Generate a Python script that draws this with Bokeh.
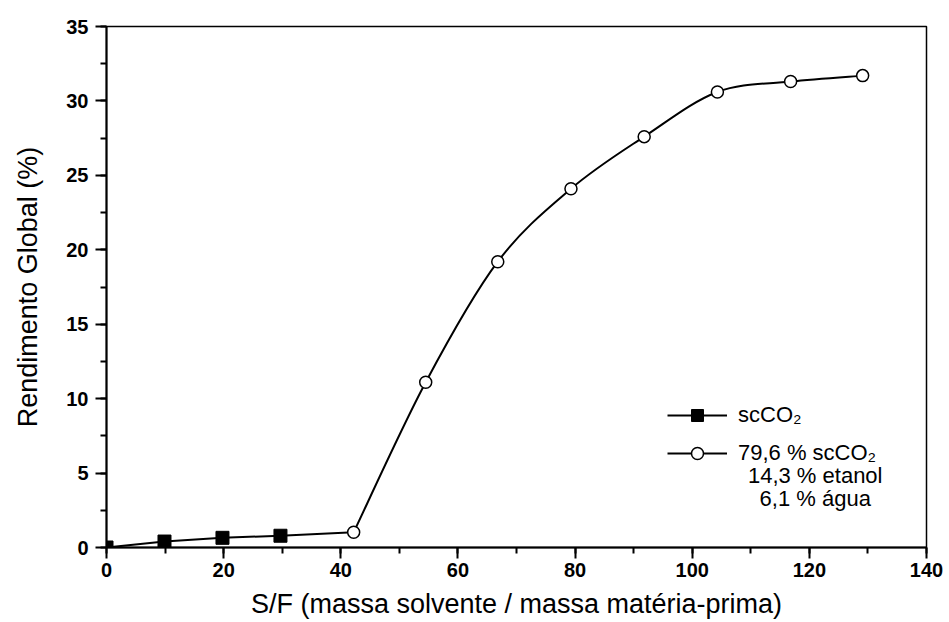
from bokeh.plotting import figure
from bokeh.models import (SingleIntervalTicker, Range1d, Legend, LegendItem,
                          Label, ColumnDataSource)
from bokeh.embed import file_html
from bokeh.resources import INLINE

# Pure supercritical CO2 extraction (filled squares)
sf_co2 = [0.0, 9.9, 19.8, 29.7]
yield_co2 = [0.0, 0.40, 0.65, 0.79]

# CO2 + ethanol + water mixture (open circles)
sf_mix = [42.2, 54.5, 66.8, 79.3, 91.8, 104.3, 116.8, 129.1]
yield_mix = [1.02, 11.1, 19.2, 24.1, 27.6, 30.6, 31.3, 31.7]

x_ticks = [0, 20, 40, 60, 80, 100, 120, 140]
y_ticks = [0, 5, 10, 15, 20, 25, 30, 35]

legend_labels = ["scCO\u2082", "79,6 % scCO\u2082"]
legend_extra = ["14,3 % etanol", "6,1 % \u00e1gua"]

FONT = "Liberation Sans"

p = figure(width=949, height=622, output_backend="svg", toolbar_location=None,
           x_range=Range1d(x_ticks[0], x_ticks[-1]),
           y_range=Range1d(y_ticks[0], y_ticks[-1]),
           min_border_left=106, min_border_right=23,
           min_border_top=26, min_border_bottom=75)
p.background_fill_color = "white"
p.border_fill_color = "white"
p.grid.visible = False
p.outline_line_color = "black"
p.outline_line_width = 1.5

for ax, step in ((p.xaxis, 20), (p.yaxis, 5)):
    ax.ticker = SingleIntervalTicker(interval=step, num_minor_ticks=2)
    ax.axis_line_width = 2
    ax.major_tick_line_width = 2
    ax.minor_tick_line_width = 2
    ax.major_tick_in = 0
    ax.minor_tick_in = 0
    ax.major_tick_out = 11
    ax.minor_tick_out = 6
    ax.major_label_text_font = FONT
    ax.major_label_text_font_style = "bold"
    ax.major_label_text_font_size = "20px"
    ax.major_label_text_color = "black"
    ax.axis_label_text_font = FONT
    ax.axis_label_text_font_style = "normal"
    ax.axis_label_text_font_size = "27px"
    ax.axis_label_text_color = "black"

p.xaxis.axis_label = "S/F (massa solvente / massa mat\u00e9ria-prima)"
p.yaxis.axis_label = "Rendimento Global (%)"
p.xaxis.major_label_standoff = 4
p.yaxis.major_label_standoff = 7
p.xaxis.axis_label_standoff = 9
p.yaxis.axis_label_standoff = 20

# scCO2 series: straight segments
co2_line = p.line(sf_co2, yield_co2, line_color="black", line_width=2)
# link from the last scCO2 point to the first mixture point
p.line([sf_co2[-1], sf_mix[0]], [yield_co2[-1], yield_mix[0]],
       line_color="black", line_width=2)

# mixture series: smooth Catmull-Rom curve drawn as cubic Bezier pieces
n = len(sf_mix)
x0, y0, x1, y1, cx0, cy0, cx1, cy1 = ([] for _ in range(8))
for i in range(n - 1):
    ip = max(i - 1, 0)
    inn = min(i + 2, n - 1)
    x0.append(sf_mix[i]); y0.append(yield_mix[i])
    x1.append(sf_mix[i + 1]); y1.append(yield_mix[i + 1])
    cx0.append(sf_mix[i] + (sf_mix[i + 1] - sf_mix[ip]) / 6)
    cy0.append(yield_mix[i] + (yield_mix[i + 1] - yield_mix[ip]) / 6)
    cx1.append(sf_mix[i + 1] - (sf_mix[inn] - sf_mix[i]) / 6)
    cy1.append(yield_mix[i + 1] - (yield_mix[inn] - yield_mix[i]) / 6)
curve_src = ColumnDataSource(dict(x0=x0, y0=y0, x1=x1, y1=y1,
                                  cx0=cx0, cy0=cy0, cx1=cx1, cy1=cy1))
p.bezier(x0="x0", y0="y0", x1="x1", y1="y1", cx0="cx0", cy0="cy0",
         cx1="cx1", cy1="cy1", source=curve_src, line_color="black", line_width=2)

co2_pts = p.scatter(sf_co2, yield_co2, marker="square", size=13,
                    fill_color="black", line_color="black")
mix_pts = p.scatter(sf_mix, yield_mix, marker="circle", size=12,
                    fill_color="white", line_color="black", line_width=1.5)

legend = Legend(items=[LegendItem(label=legend_labels[0], renderers=[co2_line, co2_pts]),
                       LegendItem(label=legend_labels[1], renderers=[co2_line, mix_pts])],
                location=(561, 79), orientation="vertical",
                glyph_width=60, glyph_height=30, label_height=20,
                label_standoff=11, spacing=8, padding=0, margin=0,
                border_line_color=None, background_fill_alpha=0,
                label_text_font=FONT, label_text_font_size="22px",
                label_text_color="black")
p.add_layout(legend)

for txt, yv in zip(legend_extra, (4.84, 3.29)):
    p.add_layout(Label(x=121.0, y=yv, text=txt, text_align="center",
                       text_baseline="middle", text_font=FONT,
                       text_font_size="22px", text_color="black"))

open("out.html", "w").write(file_html(p, INLINE))
